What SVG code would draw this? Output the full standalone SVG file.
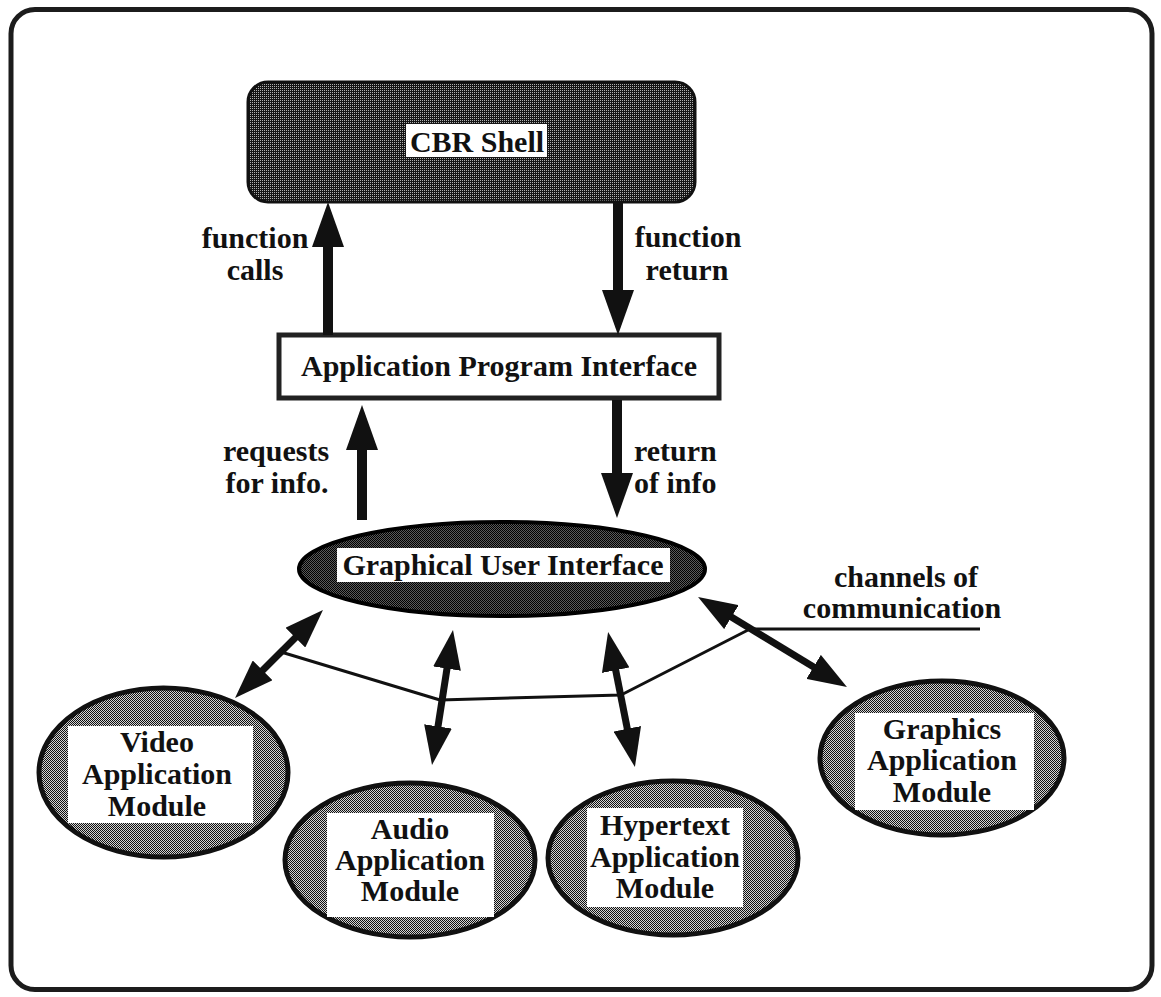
<svg xmlns="http://www.w3.org/2000/svg" width="1161" height="997" viewBox="0 0 1161 997">
  <style>
    .lbl { font-family: "Liberation Serif", "Times New Roman", serif; font-weight: bold; font-size: 30px; fill: #111; }
    .mid { text-anchor: middle; }
    .box { fill: #fff; }
    .module { fill: url(#tone-mid); stroke: #111; stroke-width: 5; }
    .shaft { stroke: #111; stroke-width: 10; fill: none; }
    .chan { stroke: #111; stroke-width: 7; fill: none; }
    .wire { stroke: #111; stroke-width: 3; fill: none; stroke-linejoin: round; }
  </style>
  <defs>
    <!-- halftone fills -->
    <pattern id="tone-mid" width="2" height="2" patternUnits="userSpaceOnUse">
      <rect width="2" height="2" fill="#d4d4d4"/>
      <rect width="1" height="1" fill="#111"/>
      <rect x="1" y="1" width="1" height="1" fill="#111"/>
    </pattern>
    <pattern id="tone-gui" width="2" height="2" patternUnits="userSpaceOnUse">
      <rect width="2" height="2" fill="#5a5a5a"/>
      <rect width="1" height="1" fill="#000"/>
      <rect x="1" y="1" width="1" height="1" fill="#000"/>
    </pattern>
    <pattern id="tone-dark" width="2" height="2" patternUnits="userSpaceOnUse">
      <rect width="2" height="2" fill="#151515"/>
      <rect width="1" height="1" fill="#b0b0b0"/>
    </pattern>
    <!-- arrowheads -->
    <marker id="head" viewBox="-2 -16 45 32" refX="0" refY="0" markerWidth="45" markerHeight="32" markerUnits="userSpaceOnUse" orient="auto-start-reverse">
      <path d="M-2,-16 L43,0 L-2,16 z" fill="#111"/>
    </marker>
    <marker id="head-sm" viewBox="-2 -14 39 28" refX="0" refY="0" markerWidth="39" markerHeight="28" markerUnits="userSpaceOnUse" orient="auto-start-reverse">
      <path d="M-2,-14 L37,0 L-2,14 z" fill="#111"/>
    </marker>
  </defs>

  <rect width="1161" height="997" fill="#fff"/>
  <!-- outer frame -->
  <rect x="11" y="9.5" width="1141" height="980" rx="24" fill="#fff" stroke="#1c1c1c" stroke-width="5"/>

  <g id="cbr-shell">
    <rect x="248" y="82" width="447" height="120" rx="20" fill="url(#tone-dark)" stroke="#111" stroke-width="3"/>
    <rect class="box" x="406" y="124" width="141" height="33"/>
    <text class="lbl mid" x="477" y="152">CBR Shell</text>
  </g>

  <g id="api">
    <rect x="279" y="335" width="440" height="63" fill="#fff" stroke="#222" stroke-width="5"/>
    <text class="lbl mid" x="499" y="376">Application Program Interface</text>
  </g>

  <g id="gui">
    <ellipse cx="502" cy="569" rx="203" ry="47" fill="url(#tone-gui)" stroke="#000" stroke-width="4"/>
    <rect class="box" x="337" y="548" width="333" height="34"/>
    <text class="lbl mid" x="503" y="575">Graphical User Interface</text>
  </g>

  <g id="video-module">
    <ellipse class="module" cx="163.5" cy="772.5" rx="124.5" ry="84.5"/>
    <rect class="box" x="68" y="726" width="185" height="97"/>
    <text class="lbl mid" x="157" y="752">Video</text>
    <text class="lbl mid" x="157" y="784">Application</text>
    <text class="lbl mid" x="157" y="816">Module</text>
  </g>

  <g id="audio-module">
    <ellipse class="module" cx="410" cy="860" rx="125" ry="77"/>
    <rect class="box" x="327" y="813" width="167" height="104"/>
    <text class="lbl mid" x="410" y="839">Audio</text>
    <text class="lbl mid" x="410" y="870">Application</text>
    <text class="lbl mid" x="410" y="901">Module</text>
  </g>

  <g id="hypertext-module">
    <ellipse class="module" cx="673" cy="858" rx="125" ry="77"/>
    <rect class="box" x="587" y="808" width="156" height="99"/>
    <text class="lbl mid" x="665" y="835">Hypertext</text>
    <text class="lbl mid" x="665" y="867">Application</text>
    <text class="lbl mid" x="665" y="898">Module</text>
  </g>

  <g id="graphics-module">
    <ellipse class="module" cx="942" cy="758" rx="122" ry="77"/>
    <rect class="box" x="855" y="713" width="179" height="97"/>
    <text class="lbl mid" x="942" y="739">Graphics</text>
    <text class="lbl mid" x="942" y="770">Application</text>
    <text class="lbl mid" x="942" y="802">Module</text>
  </g>

  <g id="connectors">
    <!-- shell <-> API -->
    <line class="shaft" x1="328" y1="335" x2="328" y2="245" marker-end="url(#head)"/>
    <line class="shaft" x1="618" y1="202" x2="618" y2="292" marker-end="url(#head)"/>
    <!-- API <-> GUI -->
    <line class="shaft" x1="362" y1="520" x2="362" y2="448" marker-end="url(#head)"/>
    <line class="shaft" x1="617" y1="400" x2="617" y2="475" marker-end="url(#head)"/>

    <!-- shared communication channel -->
    <polyline class="wire" points="281,652 440,700 621,695 750,629 980,629"/>

    <!-- GUI <-> modules -->
    <line class="chan" x1="261.2" y1="671.8" x2="296.8" y2="636.2" marker-start="url(#head-sm)" marker-end="url(#head-sm)"/>
    <line class="chan" x1="437.7" y1="728.4" x2="447.3" y2="666.6" marker-start="url(#head-sm)" marker-end="url(#head-sm)"/>
    <line class="chan" x1="615.3" y1="668.3" x2="627.7" y2="730.7" marker-start="url(#head-sm)" marker-end="url(#head-sm)"/>
    <line class="chan" x1="729.7" y1="616.1" x2="815.3" y2="667.9" marker-start="url(#head-sm)" marker-end="url(#head-sm)"/>
  </g>

  <g id="labels">
    <text class="lbl mid" x="255" y="248">function</text>
    <text class="lbl mid" x="255" y="280">calls</text>
    <text class="lbl mid" x="688" y="247">function</text>
    <text class="lbl mid" x="687" y="280">return</text>
    <text class="lbl mid" x="276" y="461">requests</text>
    <text class="lbl mid" x="277" y="493">for info.</text>
    <text class="lbl" x="634" y="461">return</text>
    <text class="lbl" x="634" y="493">of info</text>
    <text class="lbl mid" x="906" y="587">channels of</text>
    <text class="lbl mid" x="902" y="618">communication</text>
  </g>
</svg>
